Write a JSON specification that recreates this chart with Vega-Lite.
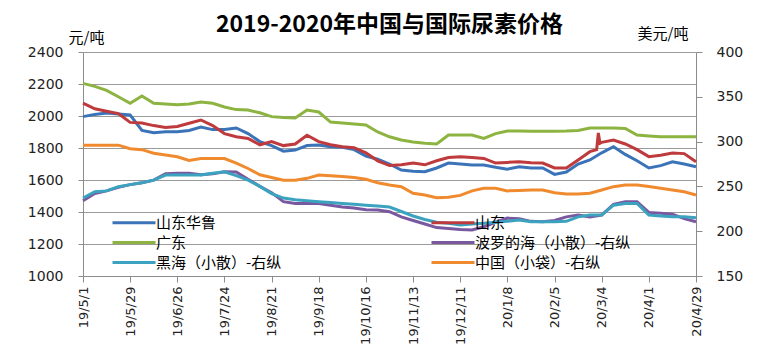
{
  "$schema": "https://vega.github.io/schema/vega-lite/v6.json",
  "width": 613,
  "height": 224,
  "autosize": {"type": "none"},
  "padding": {"left": 83, "top": 52, "right": 73, "bottom": 84},
  "background": "white",
  "title": {"text": "2019-2020年中国与国际尿素价格", "font": "Noto Sans CJK SC", "fontSize": 23, "fontWeight": "bold", "color": "#000000", "anchor": "middle", "offset": 0, "dy": 11},
  "config": {
    "view": {"stroke": null},
    "axis": {"domainColor": "#8c8c8c", "tickColor": "#8c8c8c", "labelColor": "#222222", "labelFont": "DejaVu Sans", "titleColor": "#000000"},
    "line": {"strokeWidth": 3}
  },
  "datasets": {
    "left": [
      {"d":"2019-05-01","s":"山东华鲁","v":1996},{"d":"2019-05-08","s":"山东华鲁","v":2010},{"d":"2019-05-15","s":"山东华鲁","v":2018},{"d":"2019-05-22","s":"山东华鲁","v":2012},{"d":"2019-05-29","s":"山东华鲁","v":2006},{"d":"2019-06-05","s":"山东华鲁","v":1910},{"d":"2019-06-12","s":"山东华鲁","v":1895},{"d":"2019-06-19","s":"山东华鲁","v":1902},{"d":"2019-06-26","s":"山东华鲁","v":1902},{"d":"2019-07-03","s":"山东华鲁","v":1910},{"d":"2019-07-10","s":"山东华鲁","v":1931},{"d":"2019-07-17","s":"山东华鲁","v":1915},{"d":"2019-07-24","s":"山东华鲁","v":1915},{"d":"2019-07-31","s":"山东华鲁","v":1925},{"d":"2019-08-07","s":"山东华鲁","v":1890},{"d":"2019-08-14","s":"山东华鲁","v":1840},{"d":"2019-08-21","s":"山东华鲁","v":1815},{"d":"2019-08-28","s":"山东华鲁","v":1780},{"d":"2019-09-04","s":"山东华鲁","v":1787},{"d":"2019-09-11","s":"山东华鲁","v":1815},{"d":"2019-09-18","s":"山东华鲁","v":1819},{"d":"2019-09-25","s":"山东华鲁","v":1808},{"d":"2019-10-02","s":"山东华鲁","v":1805},{"d":"2019-10-09","s":"山东华鲁","v":1790},{"d":"2019-10-16","s":"山东华鲁","v":1750},{"d":"2019-10-23","s":"山东华鲁","v":1730},{"d":"2019-10-30","s":"山东华鲁","v":1700},{"d":"2019-11-06","s":"山东华鲁","v":1662},{"d":"2019-11-13","s":"山东华鲁","v":1655},{"d":"2019-11-20","s":"山东华鲁","v":1652},{"d":"2019-11-27","s":"山东华鲁","v":1675},{"d":"2019-12-04","s":"山东华鲁","v":1706},{"d":"2019-12-11","s":"山东华鲁","v":1700},{"d":"2019-12-18","s":"山东华鲁","v":1694},{"d":"2019-12-25","s":"山东华鲁","v":1694},{"d":"2020-01-01","s":"山东华鲁","v":1680},{"d":"2020-01-08","s":"山东华鲁","v":1668},{"d":"2020-01-15","s":"山东华鲁","v":1683},{"d":"2020-01-22","s":"山东华鲁","v":1675},{"d":"2020-01-29","s":"山东华鲁","v":1675},{"d":"2020-02-05","s":"山东华鲁","v":1635},{"d":"2020-02-12","s":"山东华鲁","v":1650},{"d":"2020-02-19","s":"山东华鲁","v":1700},{"d":"2020-02-26","s":"山东华鲁","v":1725},{"d":"2020-03-04","s":"山东华鲁","v":1770},{"d":"2020-03-11","s":"山东华鲁","v":1808},{"d":"2020-03-18","s":"山东华鲁","v":1760},{"d":"2020-03-25","s":"山东华鲁","v":1720},{"d":"2020-04-01","s":"山东华鲁","v":1675},{"d":"2020-04-08","s":"山东华鲁","v":1690},{"d":"2020-04-15","s":"山东华鲁","v":1714},{"d":"2020-04-22","s":"山东华鲁","v":1700},{"d":"2020-04-29","s":"山东华鲁","v":1683},
      {"d":"2019-05-01","s":"山东","v":2081},{"d":"2019-05-08","s":"山东","v":2045},{"d":"2019-05-15","s":"山东","v":2030},{"d":"2019-05-22","s":"山东","v":2015},{"d":"2019-05-29","s":"山东","v":1960},{"d":"2019-06-05","s":"山东","v":1956},{"d":"2019-06-12","s":"山东","v":1940},{"d":"2019-06-19","s":"山东","v":1928},{"d":"2019-06-26","s":"山东","v":1935},{"d":"2019-07-03","s":"山东","v":1955},{"d":"2019-07-10","s":"山东","v":1975},{"d":"2019-07-17","s":"山东","v":1940},{"d":"2019-07-24","s":"山东","v":1890},{"d":"2019-07-31","s":"山东","v":1870},{"d":"2019-08-07","s":"山东","v":1860},{"d":"2019-08-14","s":"山东","v":1820},{"d":"2019-08-21","s":"山东","v":1840},{"d":"2019-08-28","s":"山东","v":1815},{"d":"2019-09-04","s":"山东","v":1825},{"d":"2019-09-11","s":"山东","v":1880},{"d":"2019-09-18","s":"山东","v":1840},{"d":"2019-09-25","s":"山东","v":1820},{"d":"2019-10-02","s":"山东","v":1808},{"d":"2019-10-09","s":"山东","v":1802},{"d":"2019-10-16","s":"山东","v":1770},{"d":"2019-10-23","s":"山东","v":1720},{"d":"2019-10-30","s":"山东","v":1690},{"d":"2019-11-06","s":"山东","v":1695},{"d":"2019-11-13","s":"山东","v":1706},{"d":"2019-11-20","s":"山东","v":1695},{"d":"2019-11-27","s":"山东","v":1720},{"d":"2019-12-04","s":"山东","v":1740},{"d":"2019-12-11","s":"山东","v":1746},{"d":"2019-12-18","s":"山东","v":1740},{"d":"2019-12-25","s":"山东","v":1735},{"d":"2020-01-01","s":"山东","v":1706},{"d":"2020-01-08","s":"山东","v":1710},{"d":"2020-01-15","s":"山东","v":1714},{"d":"2020-01-22","s":"山东","v":1708},{"d":"2020-01-29","s":"山东","v":1706},{"d":"2020-02-05","s":"山东","v":1675},{"d":"2020-02-12","s":"山东","v":1675},{"d":"2020-02-19","s":"山东","v":1725},{"d":"2020-02-26","s":"山东","v":1777},{"d":"2020-03-01","s":"山东","v":1790},{"d":"2020-03-02","s":"山东","v":1894},{"d":"2020-03-03","s":"山东","v":1830},{"d":"2020-03-04","s":"山东","v":1835},{"d":"2020-03-11","s":"山东","v":1850},{"d":"2020-03-18","s":"山东","v":1825},{"d":"2020-03-25","s":"山东","v":1790},{"d":"2020-04-01","s":"山东","v":1746},{"d":"2020-04-08","s":"山东","v":1755},{"d":"2020-04-15","s":"山东","v":1769},{"d":"2020-04-22","s":"山东","v":1765},{"d":"2020-04-29","s":"山东","v":1714},
      {"d":"2019-05-01","s":"广东","v":2204},{"d":"2019-05-08","s":"广东","v":2185},{"d":"2019-05-15","s":"广东","v":2160},{"d":"2019-05-22","s":"广东","v":2120},{"d":"2019-05-29","s":"广东","v":2080},{"d":"2019-06-05","s":"广东","v":2125},{"d":"2019-06-12","s":"广东","v":2080},{"d":"2019-06-19","s":"广东","v":2075},{"d":"2019-06-26","s":"广东","v":2070},{"d":"2019-07-03","s":"广东","v":2075},{"d":"2019-07-10","s":"广东","v":2087},{"d":"2019-07-17","s":"广东","v":2080},{"d":"2019-07-24","s":"广东","v":2056},{"d":"2019-07-31","s":"广东","v":2040},{"d":"2019-08-07","s":"广东","v":2037},{"d":"2019-08-14","s":"广东","v":2020},{"d":"2019-08-21","s":"广东","v":1996},{"d":"2019-08-28","s":"广东","v":1990},{"d":"2019-09-04","s":"广东","v":1987},{"d":"2019-09-11","s":"广东","v":2037},{"d":"2019-09-18","s":"广东","v":2025},{"d":"2019-09-25","s":"广东","v":1962},{"d":"2019-10-02","s":"广东","v":1956},{"d":"2019-10-09","s":"广东","v":1950},{"d":"2019-10-16","s":"广东","v":1944},{"d":"2019-10-23","s":"广东","v":1900},{"d":"2019-10-30","s":"广东","v":1870},{"d":"2019-11-06","s":"广东","v":1850},{"d":"2019-11-13","s":"广东","v":1837},{"d":"2019-11-20","s":"广东","v":1830},{"d":"2019-11-27","s":"广东","v":1825},{"d":"2019-12-04","s":"广东","v":1881},{"d":"2019-12-11","s":"广东","v":1881},{"d":"2019-12-18","s":"广东","v":1881},{"d":"2019-12-25","s":"广东","v":1860},{"d":"2020-01-01","s":"广东","v":1890},{"d":"2020-01-08","s":"广东","v":1906},{"d":"2020-01-15","s":"广东","v":1906},{"d":"2020-01-22","s":"广东","v":1904},{"d":"2020-01-29","s":"广东","v":1904},{"d":"2020-02-05","s":"广东","v":1904},{"d":"2020-02-12","s":"广东","v":1906},{"d":"2020-02-19","s":"广东","v":1910},{"d":"2020-02-26","s":"广东","v":1925},{"d":"2020-03-04","s":"广东","v":1925},{"d":"2020-03-11","s":"广东","v":1925},{"d":"2020-03-18","s":"广东","v":1922},{"d":"2020-03-25","s":"广东","v":1881},{"d":"2020-04-01","s":"广东","v":1875},{"d":"2020-04-08","s":"广东","v":1870},{"d":"2020-04-15","s":"广东","v":1870},{"d":"2020-04-22","s":"广东","v":1870},{"d":"2020-04-29","s":"广东","v":1870}
    ],
    "right": [
      {"d":"2019-05-01","s":"波罗的海（小散）-右纵","v":234},{"d":"2019-05-08","s":"波罗的海（小散）-右纵","v":242},{"d":"2019-05-15","s":"波罗的海（小散）-右纵","v":245},{"d":"2019-05-22","s":"波罗的海（小散）-右纵","v":249},{"d":"2019-05-29","s":"波罗的海（小散）-右纵","v":252},{"d":"2019-06-05","s":"波罗的海（小散）-右纵","v":254},{"d":"2019-06-12","s":"波罗的海（小散）-右纵","v":257},{"d":"2019-06-19","s":"波罗的海（小散）-右纵","v":264},{"d":"2019-06-26","s":"波罗的海（小散）-右纵","v":264.6},{"d":"2019-07-03","s":"波罗的海（小散）-右纵","v":264.6},{"d":"2019-07-10","s":"波罗的海（小散）-右纵","v":263},{"d":"2019-07-17","s":"波罗的海（小散）-右纵","v":264},{"d":"2019-07-24","s":"波罗的海（小散）-右纵","v":266.4},{"d":"2019-07-31","s":"波罗的海（小散）-右纵","v":266},{"d":"2019-08-07","s":"波罗的海（小散）-右纵","v":258},{"d":"2019-08-14","s":"波罗的海（小散）-右纵","v":250},{"d":"2019-08-21","s":"波罗的海（小散）-右纵","v":243},{"d":"2019-08-28","s":"波罗的海（小散）-右纵","v":233},{"d":"2019-09-04","s":"波罗的海（小散）-右纵","v":231},{"d":"2019-09-11","s":"波罗的海（小散）-右纵","v":231},{"d":"2019-09-18","s":"波罗的海（小散）-右纵","v":231},{"d":"2019-09-25","s":"波罗的海（小散）-右纵","v":229},{"d":"2019-10-02","s":"波罗的海（小散）-右纵","v":227},{"d":"2019-10-09","s":"波罗的海（小散）-右纵","v":226},{"d":"2019-10-16","s":"波罗的海（小散）-右纵","v":224},{"d":"2019-10-23","s":"波罗的海（小散）-右纵","v":223.6},{"d":"2019-10-30","s":"波罗的海（小散）-右纵","v":221.8},{"d":"2019-11-06","s":"波罗的海（小散）-右纵","v":216},{"d":"2019-11-13","s":"波罗的海（小散）-右纵","v":212},{"d":"2019-11-20","s":"波罗的海（小散）-右纵","v":208},{"d":"2019-11-27","s":"波罗的海（小散）-右纵","v":204},{"d":"2019-12-04","s":"波罗的海（小散）-右纵","v":203},{"d":"2019-12-11","s":"波罗的海（小散）-右纵","v":202},{"d":"2019-12-18","s":"波罗的海（小散）-右纵","v":201.4},{"d":"2019-12-25","s":"波罗的海（小散）-右纵","v":205},{"d":"2020-01-01","s":"波罗的海（小散）-右纵","v":210},{"d":"2020-01-08","s":"波罗的海（小散）-右纵","v":214.6},{"d":"2020-01-15","s":"波罗的海（小散）-右纵","v":214},{"d":"2020-01-22","s":"波罗的海（小散）-右纵","v":211},{"d":"2020-01-29","s":"波罗的海（小散）-右纵","v":210.6},{"d":"2020-02-05","s":"波罗的海（小散）-右纵","v":212},{"d":"2020-02-12","s":"波罗的海（小散）-右纵","v":216},{"d":"2020-02-19","s":"波罗的海（小散）-右纵","v":218},{"d":"2020-02-26","s":"波罗的海（小散）-右纵","v":216},{"d":"2020-03-04","s":"波罗的海（小散）-右纵","v":218},{"d":"2020-03-11","s":"波罗的海（小散）-右纵","v":230},{"d":"2020-03-18","s":"波罗的海（小散）-右纵","v":233},{"d":"2020-03-25","s":"波罗的海（小散）-右纵","v":233},{"d":"2020-04-01","s":"波罗的海（小散）-右纵","v":221},{"d":"2020-04-08","s":"波罗的海（小散）-右纵","v":220},{"d":"2020-04-15","s":"波罗的海（小散）-右纵","v":219},{"d":"2020-04-22","s":"波罗的海（小散）-右纵","v":214},{"d":"2020-04-29","s":"波罗的海（小散）-右纵","v":210.6},
      {"d":"2019-05-01","s":"黑海（小散）-右纵","v":237},{"d":"2019-05-08","s":"黑海（小散）-右纵","v":244},{"d":"2019-05-15","s":"黑海（小散）-右纵","v":245},{"d":"2019-05-22","s":"黑海（小散）-右纵","v":249.7},{"d":"2019-05-29","s":"黑海（小散）-右纵","v":252},{"d":"2019-06-05","s":"黑海（小散）-右纵","v":254},{"d":"2019-06-12","s":"黑海（小散）-右纵","v":257},{"d":"2019-06-19","s":"黑海（小散）-右纵","v":262.7},{"d":"2019-06-26","s":"黑海（小散）-右纵","v":262.7},{"d":"2019-07-03","s":"黑海（小散）-右纵","v":262.7},{"d":"2019-07-10","s":"黑海（小散）-右纵","v":262.7},{"d":"2019-07-17","s":"黑海（小散）-右纵","v":264.6},{"d":"2019-07-24","s":"黑海（小散）-右纵","v":266.4},{"d":"2019-07-31","s":"黑海（小散）-右纵","v":262},{"d":"2019-08-07","s":"黑海（小散）-右纵","v":257},{"d":"2019-08-14","s":"黑海（小散）-右纵","v":250},{"d":"2019-08-21","s":"黑海（小散）-右纵","v":242},{"d":"2019-08-28","s":"黑海（小散）-右纵","v":237},{"d":"2019-09-04","s":"黑海（小散）-右纵","v":235},{"d":"2019-09-11","s":"黑海（小散）-右纵","v":234},{"d":"2019-09-18","s":"黑海（小散）-右纵","v":233},{"d":"2019-09-25","s":"黑海（小散）-右纵","v":232},{"d":"2019-10-02","s":"黑海（小散）-右纵","v":231},{"d":"2019-10-09","s":"黑海（小散）-右纵","v":230},{"d":"2019-10-16","s":"黑海（小散）-右纵","v":229},{"d":"2019-10-23","s":"黑海（小散）-右纵","v":228},{"d":"2019-10-30","s":"黑海（小散）-右纵","v":227},{"d":"2019-11-06","s":"黑海（小散）-右纵","v":222},{"d":"2019-11-13","s":"黑海（小散）-右纵","v":217},{"d":"2019-11-20","s":"黑海（小散）-右纵","v":213},{"d":"2019-11-27","s":"黑海（小散）-右纵","v":210},{"d":"2019-12-04","s":"黑海（小散）-右纵","v":208.8},{"d":"2019-12-11","s":"黑海（小散）-右纵","v":207},{"d":"2019-12-18","s":"黑海（小散）-右纵","v":208},{"d":"2019-12-25","s":"黑海（小散）-右纵","v":208.8},{"d":"2020-01-01","s":"黑海（小散）-右纵","v":210},{"d":"2020-01-08","s":"黑海（小散）-右纵","v":211},{"d":"2020-01-15","s":"黑海（小散）-右纵","v":212.5},{"d":"2020-01-22","s":"黑海（小散）-右纵","v":210.6},{"d":"2020-01-29","s":"黑海（小散）-右纵","v":210.6},{"d":"2020-02-05","s":"黑海（小散）-右纵","v":210.6},{"d":"2020-02-12","s":"黑海（小散）-右纵","v":211},{"d":"2020-02-19","s":"黑海（小散）-右纵","v":216},{"d":"2020-02-26","s":"黑海（小散）-右纵","v":218},{"d":"2020-03-04","s":"黑海（小散）-右纵","v":218},{"d":"2020-03-11","s":"黑海（小散）-右纵","v":229},{"d":"2020-03-18","s":"黑海（小散）-右纵","v":231},{"d":"2020-03-25","s":"黑海（小散）-右纵","v":231},{"d":"2020-04-01","s":"黑海（小散）-右纵","v":218},{"d":"2020-04-08","s":"黑海（小散）-右纵","v":217},{"d":"2020-04-15","s":"黑海（小散）-右纵","v":216},{"d":"2020-04-22","s":"黑海（小散）-右纵","v":216},{"d":"2020-04-29","s":"黑海（小散）-右纵","v":215},
      {"d":"2019-05-01","s":"中国（小袋）-右纵","v":296},{"d":"2019-05-08","s":"中国（小袋）-右纵","v":296},{"d":"2019-05-15","s":"中国（小袋）-右纵","v":296},{"d":"2019-05-22","s":"中国（小袋）-右纵","v":296},{"d":"2019-05-29","s":"中国（小袋）-右纵","v":292},{"d":"2019-06-05","s":"中国（小袋）-右纵","v":291},{"d":"2019-06-12","s":"中国（小袋）-右纵","v":287},{"d":"2019-06-19","s":"中国（小袋）-右纵","v":285},{"d":"2019-06-26","s":"中国（小袋）-右纵","v":283},{"d":"2019-07-03","s":"中国（小袋）-右纵","v":279},{"d":"2019-07-10","s":"中国（小袋）-右纵","v":281},{"d":"2019-07-17","s":"中国（小袋）-右纵","v":281},{"d":"2019-07-24","s":"中国（小袋）-右纵","v":281},{"d":"2019-07-31","s":"中国（小袋）-右纵","v":276},{"d":"2019-08-07","s":"中国（小袋）-右纵","v":270},{"d":"2019-08-14","s":"中国（小袋）-右纵","v":263},{"d":"2019-08-21","s":"中国（小袋）-右纵","v":260},{"d":"2019-08-28","s":"中国（小袋）-右纵","v":257},{"d":"2019-09-04","s":"中国（小袋）-右纵","v":257},{"d":"2019-09-11","s":"中国（小袋）-右纵","v":259},{"d":"2019-09-18","s":"中国（小袋）-右纵","v":262.7},{"d":"2019-09-25","s":"中国（小袋）-右纵","v":262},{"d":"2019-10-02","s":"中国（小袋）-右纵","v":261},{"d":"2019-10-09","s":"中国（小袋）-右纵","v":260},{"d":"2019-10-16","s":"中国（小袋）-右纵","v":258},{"d":"2019-10-23","s":"中国（小袋）-右纵","v":254},{"d":"2019-10-30","s":"中国（小袋）-右纵","v":251.6},{"d":"2019-11-06","s":"中国（小袋）-右纵","v":249.7},{"d":"2019-11-13","s":"中国（小袋）-右纵","v":242.3},{"d":"2019-11-20","s":"中国（小袋）-右纵","v":240.4},{"d":"2019-11-27","s":"中国（小袋）-右纵","v":237.4},{"d":"2019-12-04","s":"中国（小袋）-右纵","v":238},{"d":"2019-12-11","s":"中国（小袋）-右纵","v":240},{"d":"2019-12-18","s":"中国（小袋）-右纵","v":245},{"d":"2019-12-25","s":"中国（小袋）-右纵","v":247.9},{"d":"2020-01-01","s":"中国（小袋）-右纵","v":247.9},{"d":"2020-01-08","s":"中国（小袋）-右纵","v":245},{"d":"2020-01-15","s":"中国（小袋）-右纵","v":245.5},{"d":"2020-01-22","s":"中国（小袋）-右纵","v":246},{"d":"2020-01-29","s":"中国（小袋）-右纵","v":246},{"d":"2020-02-05","s":"中国（小袋）-右纵","v":243},{"d":"2020-02-12","s":"中国（小袋）-右纵","v":241.5},{"d":"2020-02-19","s":"中国（小袋）-右纵","v":241.5},{"d":"2020-02-26","s":"中国（小袋）-右纵","v":242.3},{"d":"2020-03-04","s":"中国（小袋）-右纵","v":246},{"d":"2020-03-11","s":"中国（小袋）-右纵","v":249.7},{"d":"2020-03-18","s":"中国（小袋）-右纵","v":251.6},{"d":"2020-03-25","s":"中国（小袋）-右纵","v":251.6},{"d":"2020-04-01","s":"中国（小袋）-右纵","v":250},{"d":"2020-04-08","s":"中国（小袋）-右纵","v":248},{"d":"2020-04-15","s":"中国（小袋）-右纵","v":246},{"d":"2020-04-22","s":"中国（小袋）-右纵","v":244},{"d":"2020-04-29","s":"中国（小袋）-右纵","v":240.4}
    ]
  },
  "layer": [
    {
      "data": {"name": "left"},
      "mark": {"type": "line", "strokeWidth": 3},
      "encoding": {
        "x": {
          "field": "d", "type": "temporal",
          "scale": {"type": "utc", "domain": [{"year": 2019, "month": 5, "date": 1, "utc": true}, {"year": 2020, "month": 4, "date": 29, "utc": true}]},
          "axis": {
            "title": null, "grid": false,
            "values": [
              {"year": 2019, "month": 5, "date": 1, "utc": true},
              {"year": 2019, "month": 5, "date": 29, "utc": true},
              {"year": 2019, "month": 6, "date": 26, "utc": true},
              {"year": 2019, "month": 7, "date": 24, "utc": true},
              {"year": 2019, "month": 8, "date": 21, "utc": true},
              {"year": 2019, "month": 9, "date": 18, "utc": true},
              {"year": 2019, "month": 10, "date": 16, "utc": true},
              {"year": 2019, "month": 11, "date": 13, "utc": true},
              {"year": 2019, "month": 12, "date": 11, "utc": true},
              {"year": 2020, "month": 1, "date": 8, "utc": true},
              {"year": 2020, "month": 2, "date": 5, "utc": true},
              {"year": 2020, "month": 3, "date": 4, "utc": true},
              {"year": 2020, "month": 4, "date": 1, "utc": true},
              {"year": 2020, "month": 4, "date": 29, "utc": true}
            ],
            "labelExpr": "utcFormat(datum.value, '%y/%-m/%-d')",
            "labelAngle": 270, "labelAlign": "right", "labelBaseline": "middle",
            "labelFontSize": 13, "labelPadding": 4, "tickSize": 6,
            "labelOverlap": false, "labelFlush": false, "labelBound": false
          }
        },
        "y": {
          "field": "v", "type": "quantitative",
          "scale": {"domain": [1000, 2400], "nice": false, "zero": false},
          "axis": {
            "orient": "left", "values": [1000, 1200, 1400, 1600, 1800, 2000, 2200, 2400], "format": "d",
            "grid": true, "gridColor": "#9a9a9a", "gridWidth": 1,
            "labelFontSize": 14, "labelPadding": 15, "tickSize": 5,
            "title": "元/吨", "titleAngle": 0, "titleX": -15, "titleY": -15,
            "titleAlign": "left", "titleBaseline": "middle",
            "titleFont": "Noto Sans CJK SC", "titleFontSize": 15, "titleFontWeight": "normal"
          }
        },
        "color": {
          "field": "s", "type": "nominal",
          "scale": {
            "domain": ["山东华鲁", "广东", "黑海（小散）-右纵", "山东", "波罗的海（小散）-右纵", "中国（小袋）-右纵"],
            "range": ["#3b73b9", "#8db340", "#3ba3c0", "#be3a3c", "#7a58a0", "#f08a2e"]
          },
          "legend": {
            "orient": "none", "legendX": 22, "legendY": 163, "columns": 2,
            "columnPadding": 142, "rowPadding": 4, "padding": 0,
            "symbolType": "M0,0H10", "symbolSize": 74, "symbolStrokeWidth": 4,
            "labelOffset": 36, "labelFont": "Noto Sans CJK SC", "labelFontSize": 15,
            "labelColor": "#000000", "labelLimit": 400, "title": null
          }
        }
      }
    },
    {
      "data": {"name": "right"},
      "mark": {"type": "line", "strokeWidth": 3},
      "encoding": {
        "x": {"field": "d", "type": "temporal"},
        "y": {
          "field": "v", "type": "quantitative",
          "scale": {"domain": [150, 400], "nice": false, "zero": false},
          "axis": {
            "orient": "right", "values": [150, 200, 250, 300, 350, 400], "format": "d",
            "grid": false, "labelFontSize": 14, "labelPadding": 14, "tickSize": 6,
            "title": "美元/吨", "titleAngle": 0, "titleX": -59, "titleY": -19,
            "titleAlign": "left", "titleBaseline": "middle",
            "titleFont": "Noto Sans CJK SC", "titleFontSize": 15, "titleFontWeight": "normal"
          }
        },
        "color": {
          "field": "s", "type": "nominal",
          "scale": {
            "domain": ["山东华鲁", "广东", "黑海（小散）-右纵", "山东", "波罗的海（小散）-右纵", "中国（小袋）-右纵"],
            "range": ["#3b73b9", "#8db340", "#3ba3c0", "#be3a3c", "#7a58a0", "#f08a2e"]
          }
        }
      }
    }
  ],
  "resolve": {"scale": {"y": "independent"}, "axis": {"y": "independent"}}
}
